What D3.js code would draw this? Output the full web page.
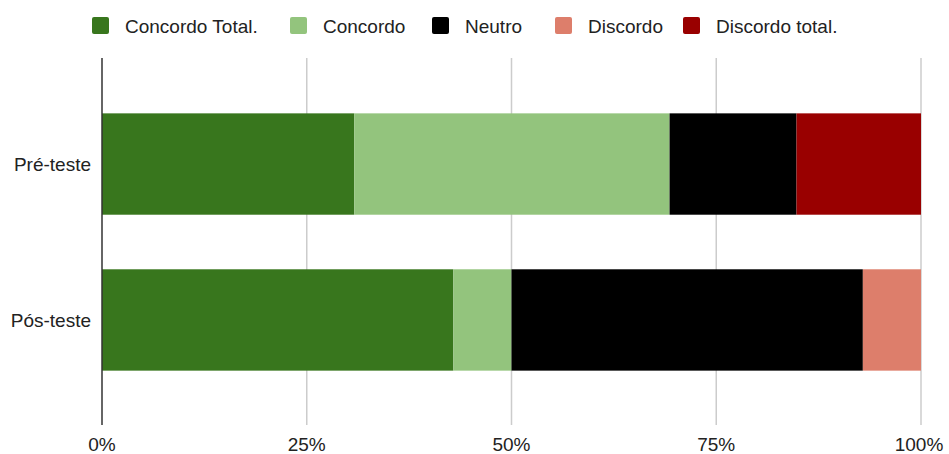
<!DOCTYPE html>
<html>
<head>
<meta charset="utf-8">
<script src="https://cdn.jsdelivr.net/npm/d3@7"></script>
<style>
  body { margin: 0; background: #fff; }
  svg text { font-family: "Liberation Sans", Arial, sans-serif; fill: #222; }
</style>
</head>
<body>
<div class="main"></div>
<script>
// Categories and series (percent of answers)
let groups = ["Pré-teste", "Pós-teste"];
let series = ["Concordo Total.", "Concordo", "Neutro", "Discordo", "Discordo total."];
let colors = ["#38761d", "#93c47d", "#000000", "#dd7e6b", "#990000"];
let pre_values = [30.8, 38.5, 15.5, 0, 15.2];
let pos_values = [42.9, 7.1, 42.9, 7.1, 0];
let tick_values = [0, 25, 50, 75, 100];

let width = 949, height = 454;
let svg = d3.select("div.main").append("svg")
    .attr("width", width)
    .attr("height", height);

let x = d3.scaleLinear().domain([0, 100]).range([102, 921]);
let y = d3.scaleBand().domain(groups).range([58, 426])
    .paddingInner(0.35).paddingOuter(0.355);

// Gridlines
svg.append("g").selectAll("line")
    .data(tick_values.slice(1))
    .join("line")
    .attr("x1", d => x(d)).attr("x2", d => x(d))
    .attr("y1", 58).attr("y2", 425)
    .attr("stroke", "#cccccc")
    .attr("stroke-width", 1.5);

// Stacked bars
let rows = [pre_values, pos_values];
rows.forEach(function(vals, gi) {
    let acc = 0;
    vals.forEach(function(v, si) {
        if (v > 0) {
            svg.append("rect")
                .attr("x", x(acc))
                .attr("y", y(groups[gi]))
                .attr("width", x(acc + v) - x(acc))
                .attr("height", y.bandwidth())
                .attr("fill", colors[si]);
        }
        acc += v;
    });
});

// Zero axis line
svg.append("line")
    .attr("x1", x(0)).attr("x2", x(0))
    .attr("y1", 58).attr("y2", 425)
    .attr("stroke", "#333")
    .attr("stroke-width", 1.5);

// X tick labels
svg.append("g").selectAll("text")
    .data(tick_values)
    .join("text")
    .attr("x", d => d == 100 ? x(d) - 2 : x(d))
    .attr("y", 451)
    .attr("text-anchor", "middle")
    .attr("font-size", 19)
    .text(d => d + "%");

// Y labels
svg.append("g").selectAll("text")
    .data(groups)
    .join("text")
    .attr("x", 91)
    .attr("y", d => y(d) + y.bandwidth() / 2)
    .attr("dy", "0.35em")
    .attr("text-anchor", "end")
    .attr("font-size", 19)
    .text(d => d);

// Legend
let legend_x = [92, 290, 432, 555, 683];
let lg = svg.append("g");
series.forEach(function(s, i) {
    lg.append("rect")
        .attr("x", legend_x[i]).attr("y", 17)
        .attr("width", 17).attr("height", 17)
        .attr("rx", 2)
        .attr("fill", colors[i]);
    lg.append("text")
        .attr("x", legend_x[i] + 33)
        .attr("y", 26)
        .attr("dy", "0.35em")
        .attr("font-size", 19)
        .text(s);
});
</script>
</body>
</html>
